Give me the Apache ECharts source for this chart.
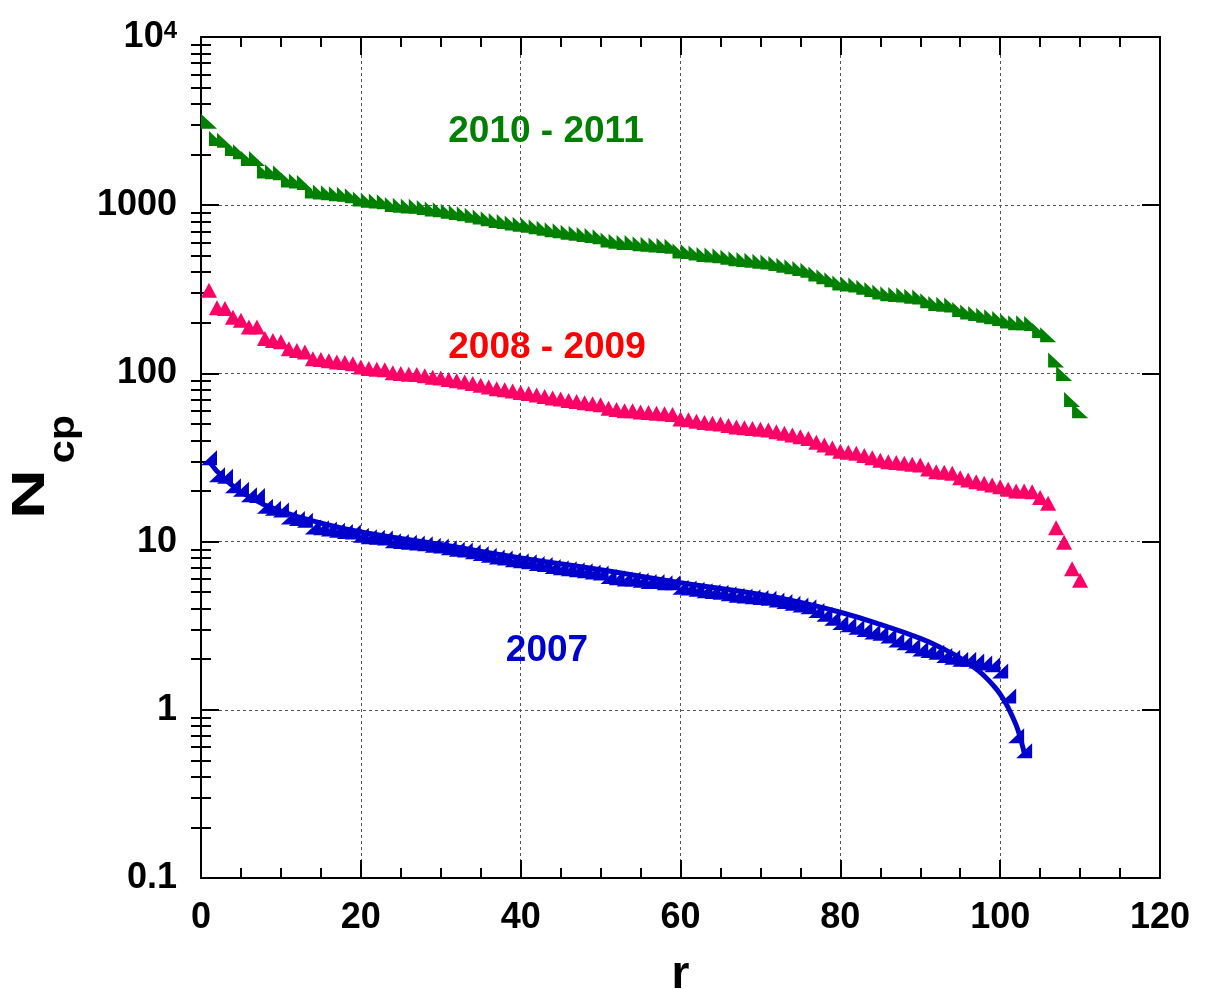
<!DOCTYPE html>
<html>
<head>
<meta charset="utf-8">
<script src="https://cdn.jsdelivr.net/npm/echarts@6/dist/echarts.min.js"></script>
<style>
html,body{margin:0;padding:0;background:#fff;}
#chart{width:1208px;height:989px;}
</style>
</head>
<body>
<div id="chart"></div>
<script>
// ---- data ----
var ranks110 = [];
for (var i = 1; i <= 110; i++) ranks110.push(i);

var series2010 = [
  3160, 2490, 2435, 2175, 2080, 1895, 1895, 1596, 1580, 1559,
  1411, 1392, 1365, 1214, 1200, 1185, 1170, 1160, 1140, 1090,
  1070, 1060, 1050, 1010, 1000, 990, 985, 970, 950, 940,
  920, 905, 890, 870, 850, 830, 810, 800, 785, 770,
  760, 745, 730, 715, 705, 690, 680, 670, 660, 650,
  620, 610, 600, 600, 590, 585, 580, 575, 570, 535,
  530, 520, 510, 505, 500, 490, 480, 475, 470, 465,
  460, 450, 440, 430, 420, 410, 390, 375, 360, 345,
  340, 335, 325, 315, 305, 298, 295, 292, 288, 285,
  270, 260, 258, 255, 240, 232, 227, 222, 217, 212,
  205, 200, 200, 198, 180, 170, 120, 100, 70, 60
];

var series2008 = [
  312, 246, 243, 216, 207, 189, 189, 161, 157, 154,
  140, 137, 134, 122, 121, 119, 117, 116, 114, 109,
  107, 106, 105, 101, 100, 99, 98.5, 97, 95, 94,
  92, 90.5, 89, 87, 85, 83, 81, 80, 78.5, 77,
  76, 74.5, 73, 71.5, 70.5, 69, 68, 67, 66, 65,
  62, 61, 60, 60, 59, 58.5, 58, 57.5, 57, 53.5,
  53, 52, 51, 50.5, 50, 49, 48, 47.5, 47, 46.5,
  46, 45, 44, 43, 42, 41, 39, 37.5, 36, 34.5,
  34, 33.5, 32.5, 31.5, 30.5, 29.8, 29.5, 29.2, 28.8, 28.5,
  27, 26, 25.8, 25.5, 24, 23.2, 22.7, 22.2, 21.7, 21.2,
  20.5, 20, 20, 19.8, 18.3, 16.9, 12.1, 9.9, 6.9, 5.9
];

var series2007 = [
  31.5, 25, 24.5, 21.5, 20.5, 19, 18.8, 16.2, 15.8, 15.4,
  14, 13.7, 13.4, 12.2, 12.1, 11.9, 11.7, 11.5, 11.4, 10.9,
  10.7, 10.6, 10.5, 10.1, 10, 9.9, 9.8, 9.7, 9.5, 9.4,
  9.2, 9.0, 8.9, 8.7, 8.5, 8.3, 8.1, 8.0, 7.8, 7.7,
  7.6, 7.4, 7.3, 7.1, 7.0, 6.9, 6.8, 6.7, 6.6, 6.5,
  6.2, 6.1, 6.0, 6.0, 5.9, 5.8, 5.8, 5.7, 5.7, 5.35,
  5.3, 5.2, 5.1, 5.05, 5.0, 4.9, 4.8, 4.75, 4.7, 4.65,
  4.6, 4.5, 4.4, 4.3, 4.2, 4.1, 3.9, 3.7, 3.5, 3.3,
  3.2, 3.1, 3.0, 2.9, 2.85, 2.75, 2.6, 2.5, 2.4, 2.3,
  2.25, 2.2, 2.1, 2.05, 2.0, 2.0, 1.95, 1.9, 1.85, 1.7,
  1.21, 0.70, 0.57
];

// fitted curve for 2007
var fit2007R = [1, 3, 6, 10, 15, 20, 30, 40, 50, 60, 70, 75, 80, 85, 90, 93, 95, 97, 98, 99, 100, 101, 102, 102.6, 103.1];
var fit2007V = [30, 23.5, 18.5, 15.2, 12.9, 11.4, 9.6, 8.0, 6.8, 5.7, 4.85, 4.35, 3.8, 3.22, 2.66, 2.29, 2.03, 1.75, 1.59, 1.42, 1.24, 1.03, 0.81, 0.66, 0.53];

var xTicks = [0, 20, 40, 60, 80, 100, 120];
var yMajor = [0.1, 1, 10, 100, 1000, 10000];
var yMinor = [];
[0.1, 1, 10, 100, 1000].forEach(function (d) {
  for (var k = 2; k <= 9; k++) yMinor.push(+(d * k).toPrecision(3));
});

var seriesLabels = ['2010 - 2011', '2008 - 2009', '2007'];

// ---- chart ----
function pairs(xs, ys) { return ys.map(function (v, i) { return [xs[i], v]; }); }

var FONT = '"Liberation Sans", Arial, sans-serif';
var tickStyle = { color: '#000', width: 2 };

var chart = echarts.init(document.getElementById('chart'), null, { renderer: 'canvas' });

var option = {
  animation: false,
  backgroundColor: '#fff',
  grid: { left: 201, right: 48, top: 37, bottom: 111, containLabel: false, outerBoundsMode: 'none' },
  xAxis: [
    {
      type: 'value', position: 'bottom', min: xTicks[0], max: xTicks[xTicks.length - 1], interval: 20,
      axisLine: { show: true, onZero: false, lineStyle: { color: '#000', width: 2 } },
      axisTick: { show: true, inside: true, length: 18, lineStyle: tickStyle },
      minorTick: { show: true, splitNumber: 4, length: 10, lineStyle: tickStyle },
      axisLabel: { fontSize: 36, fontWeight: 'bold', color: '#000', margin: 22, fontFamily: FONT },
      splitLine: { show: true, lineStyle: { color: '#555', type: [3, 3], width: 1 } },
      name: 'r', nameLocation: 'middle', nameGap: 74,
      nameTextStyle: { fontSize: 46, fontWeight: 'bold', color: '#000', fontFamily: FONT }
    },
    {
      type: 'value', position: 'top', min: 0, max: 120, interval: 20,
      axisLine: { show: true, onZero: false, lineStyle: { color: '#000', width: 2 } },
      axisTick: { show: true, inside: true, length: 18, lineStyle: tickStyle },
      minorTick: { show: true, splitNumber: 4, length: 10, lineStyle: tickStyle },
      axisLabel: { show: false },
      splitLine: { show: false }
    }
  ],
  yAxis: [
    {
      type: 'log', logBase: 10, position: 'left', min: yMajor[0], max: yMajor[yMajor.length - 1],
      axisLine: { show: true, onZero: false, lineStyle: { color: '#000', width: 2 } },
      axisTick: { show: true, inside: true, length: 18, lineStyle: tickStyle },
      axisLabel: {
        fontSize: 36, fontWeight: 'bold', color: '#000', margin: 24, fontFamily: FONT,
        formatter: function (v) {
          if (Math.abs(v - 10000) < 1) return '{b|10}{t|4}';
          if (v < 0.5) return '0.1';
          return String(Math.round(v));
        },
        rich: {
          b: { fontSize: 36, fontWeight: 'bold', color: '#000', fontFamily: FONT },
          t: { fontSize: 24, fontWeight: 'bold', color: '#000', fontFamily: FONT, verticalAlign: 'top' }
        }
      },
      splitLine: { show: true, lineStyle: { color: '#555', type: [3, 3], width: 1 } }
    },
    {
      type: 'log', logBase: 10, position: 'left', min: 0.1, max: 10000,
      axisLine: { show: false },
      axisTick: { show: true, inside: true, length: 10, lineStyle: tickStyle, customValues: yMinor },
      axisLabel: { show: false },
      splitLine: { show: false }
    },
    {
      type: 'log', logBase: 10, position: 'right', min: 0.1, max: 10000,
      axisLine: { show: true, onZero: false, lineStyle: { color: '#000', width: 2 } },
      axisTick: { show: true, inside: true, length: 18, lineStyle: tickStyle },
      axisLabel: { show: false },
      splitLine: { show: false }
    },
    {
      type: 'log', logBase: 10, position: 'right', min: 0.1, max: 10000,
      axisLine: { show: false },
      axisTick: { show: true, inside: true, length: 10, lineStyle: tickStyle, customValues: yMinor },
      axisLabel: { show: false },
      splitLine: { show: false }
    }
  ],
  series: [
    {
      name: seriesLabels[0], type: 'scatter', xAxisIndex: 0, yAxisIndex: 0,
      symbol: 'path://M0,0L0,10L10,10Z', symbolSize: [16, 15],
      itemStyle: { color: '#008000', opacity: 1 },
      data: pairs(ranks110, series2010)
    },
    {
      name: seriesLabels[1], type: 'scatter', xAxisIndex: 0, yAxisIndex: 0,
      symbol: 'triangle', symbolSize: [16, 15],
      itemStyle: { color: '#FF0066', opacity: 1 },
      data: pairs(ranks110, series2008)
    },
    {
      name: seriesLabels[2], type: 'scatter', xAxisIndex: 0, yAxisIndex: 0,
      symbol: 'path://M10,0L10,10L0,10Z', symbolSize: [16, 15],
      itemStyle: { color: '#0000CD', opacity: 1 },
      data: pairs(ranks110, series2007)
    },
    {
      name: 'fit 2007', type: 'line', xAxisIndex: 0, yAxisIndex: 0,
      showSymbol: false, symbol: 'none', smooth: true,
      lineStyle: { color: '#0000CD', width: 5 },
      data: pairs(fit2007R, fit2007V), z: 3
    }
  ],
  graphic: [
    { type: 'text', x: 546, y: 132, z: 10,
      style: { text: seriesLabels[0], font: 'bold 37px ' + FONT, fill: '#008000', align: 'center', verticalAlign: 'middle', textAlign: 'center', textVerticalAlign: 'middle' } },
    { type: 'text', x: 547, y: 348, z: 10,
      style: { text: seriesLabels[1], font: 'bold 37px ' + FONT, fill: '#FF0000', align: 'center', verticalAlign: 'middle', textAlign: 'center', textVerticalAlign: 'middle' } },
    { type: 'text', x: 547, y: 651, z: 10,
      style: { text: seriesLabels[2], font: 'bold 37px ' + FONT, fill: '#0000CD', align: 'center', verticalAlign: 'middle', textAlign: 'center', textVerticalAlign: 'middle' } },
    { type: 'text', x: 31, y: 494, rotation: Math.PI / 2, scaleX: 1.5, scaleY: 1, z: 10,
      style: { text: 'N', font: 'bold 46px ' + FONT, fill: '#000', align: 'center', verticalAlign: 'middle', textAlign: 'center', textVerticalAlign: 'middle' } },
    { type: 'text', x: 64, y: 439, rotation: Math.PI / 2, scaleX: 1.15, scaleY: 1, z: 10,
      style: { text: 'cp', font: 'bold 36px ' + FONT, fill: '#000', align: 'center', verticalAlign: 'middle', textAlign: 'center', textVerticalAlign: 'middle' } }
  ]
};

chart.setOption(option);
</script>
</body>
</html>
